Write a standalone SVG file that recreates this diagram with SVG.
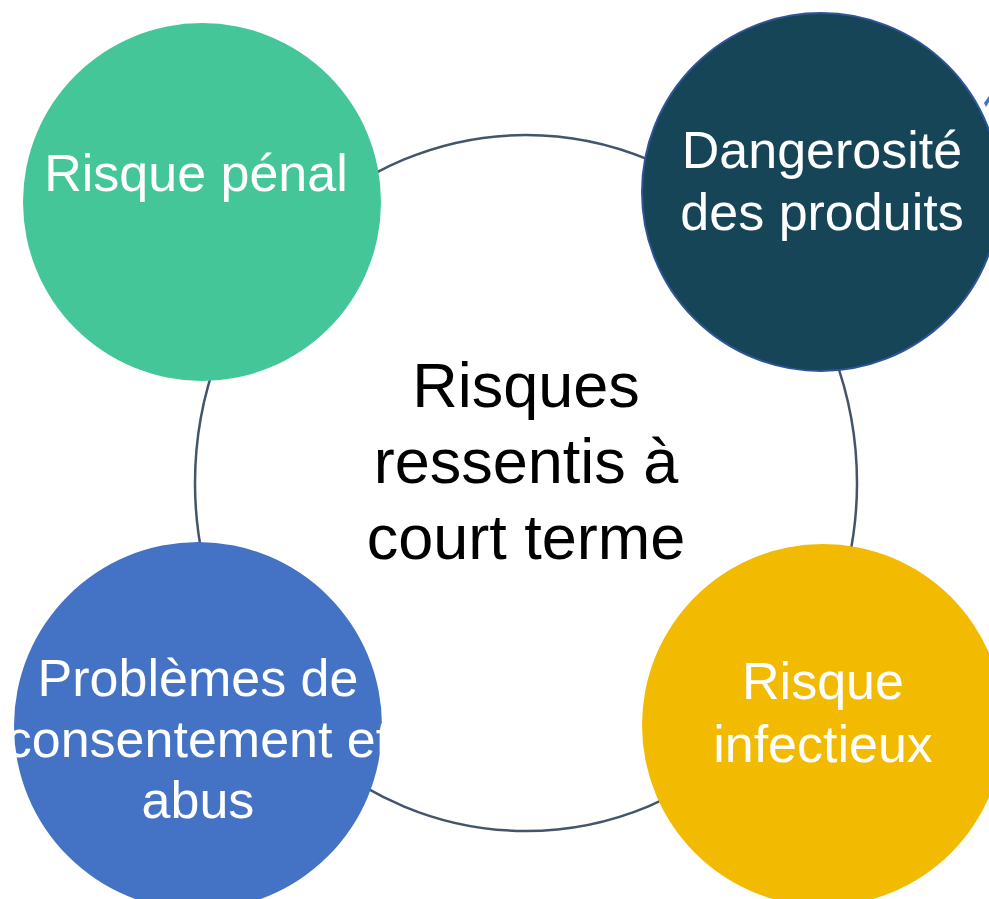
<svg xmlns="http://www.w3.org/2000/svg" width="989" height="899" viewBox="0 0 989 899">
<style>
.lbl{font-family:"Liberation Sans",Arial,sans-serif;font-size:52px;fill:#FFFFFF;text-anchor:middle}
.ctr{font-family:"Liberation Sans",Arial,sans-serif;font-size:63px;fill:#000000;text-anchor:middle}
.ring{fill:none;stroke:#44546A;stroke-width:2.5}
</style>
<rect width="989" height="899" fill="#FFFFFF"/>
<g id="connectors">
<ellipse class="ring" cx="526" cy="483" rx="331" ry="348"/>
<path d="M984,103 L989,96 L989,102 L986,107 Z" fill="#4472C4"/>
</g>
<g id="center">
<text class="ctr" x="526" y="407">Risques</text>
<text class="ctr" x="526" y="483">ressentis à</text>
<text class="ctr" x="526" y="559">court terme</text>
</g>
<g id="node-penal">
<circle cx="202" cy="202" r="179" fill="#44C699"/>
<text class="lbl" x="196" y="191">Risque pénal</text>
</g>
<g id="node-dangerosite">
<circle cx="821" cy="192" r="179" fill="#164557" stroke="#2F5597" stroke-width="2"/>
<text class="lbl" x="822" y="168">Dangerosité</text>
<text class="lbl" x="822" y="230">des produits</text>
</g>
<g id="node-consentement">
<circle cx="198" cy="726" r="184" fill="#4472C4"/>
<text class="lbl" x="198" y="696">Problèmes de</text>
<text class="lbl" x="198" y="757">consentement et</text>
<text class="lbl" x="198" y="818">abus</text>
</g>
<g id="node-infectieux">
<circle cx="823" cy="725" r="181" fill="#F2BA00"/>
<text class="lbl" x="823" y="699">Risque</text>
<text class="lbl" x="823" y="762">infectieux</text>
</g>
</svg>
